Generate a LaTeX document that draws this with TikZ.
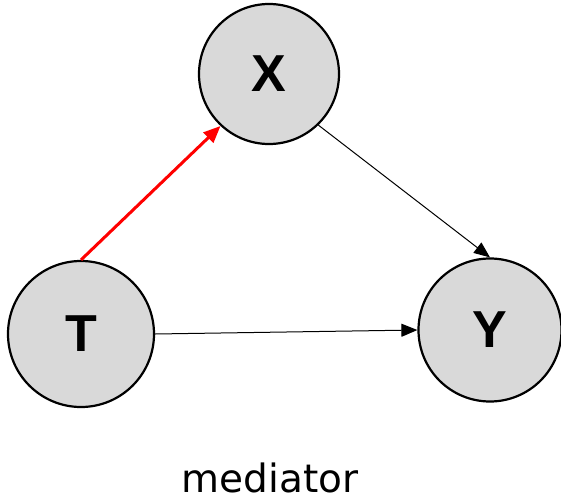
\documentclass[tikz,border=0pt]{standalone}
\usepackage{fontspec}
\setmainfont{DejaVu Sans}
\newfontfamily\labfont{Liberation Sans}
\usetikzlibrary{arrows.meta}
\begin{document}
\begin{tikzpicture}[x=1pt,y=-1pt,
  var/.style={circle,draw=black,line width=2.2pt,fill=gray!30!white,minimum size=#1,inner sep=0pt,
    font=\labfont\bfseries\fontsize{52}{60}\selectfont},
  edge/.style={line width=1pt,-{Triangle[length=16pt,width=13pt]}},
  redge/.style={line width=3pt,red,-{Triangle[length=17pt,width=14pt]}}]
\useasboundingbox (0,0) rectangle (561,500);
\node[var=140pt] (X) at (269,74) {X};
\node[var=146pt] (T) at (81,334) {T};
\node[var=143pt] (Y) at (490,330) {Y};
\draw[redge] (T.north) -- (X.227);
\draw[edge] (X.314) -- (Y.north);
\draw[edge] (T.east) -- (Y.west);
\node[anchor=base,inner sep=0pt,font=\fontsize{39}{46}\selectfont] (m) at (270,492) {mediator};
\end{tikzpicture}
\end{document}
